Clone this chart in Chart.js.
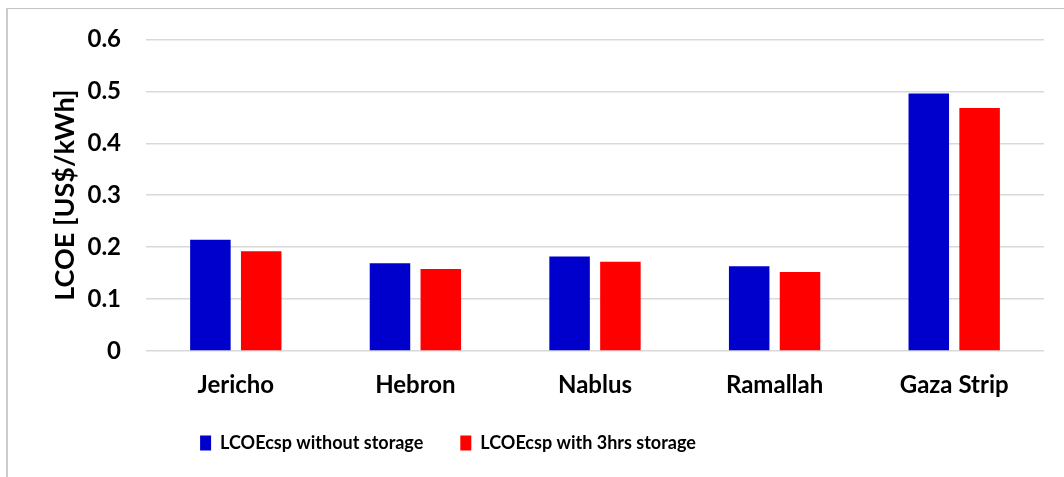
<!DOCTYPE html>
<html>
<head>
<meta charset="utf-8">
<script src="https://cdn.jsdelivr.net/npm/chart.js@4"></script>
<style>
  html, body { margin: 0; padding: 0; background: #ffffff; }
  #wrap { position: relative; width: 1064px; height: 477px; overflow: hidden; }
  #frame { position: absolute; left: 6px; top: 8px; right: -10px; bottom: -10px;
           border-left: 2px solid #cccccc; border-top: 1px solid #c4c4c4; }
  canvas { position: absolute; left: 0; top: 0; }
</style>
</head>
<body>
<div id="wrap">
  <div id="frame"></div>
  <canvas id="c" width="1064" height="477"></canvas>
</div>
<script>
const categories = ["Jericho", "Hebron", "Nablus", "Ramallah", "Gaza Strip"];
const seriesNames = ["LCOEcsp without storage", "LCOEcsp with 3hrs storage"];
const withoutStorage = [0.214, 0.169, 0.182, 0.163, 0.496];
const withStorage = [0.192, 0.158, 0.172, 0.152, 0.468];
const yTicks = [0, 0.1, 0.2, 0.3, 0.4, 0.5, 0.6];
const yTitle = "LCOE [US$/kWh]";

const FONT = "Lato, 'Open Sans', sans-serif";
const PLOT_LEFT = 146;
const PAD_LEFT = 49;
const PLOT_BOTTOM = 351;
const LEGEND_CENTER_X = 448;
const LEGEND_CENTER_Y = 443;
const LEGEND_PAD = 37;
const LEGEND_ITEM_H = 18;

const legendMover = {
  id: 'legendMover',
  afterLayout(chart) {
    const L = chart.legend;
    if (!L) return;
    const w = L.right - L.left, h = L.bottom - L.top;
    L.left = LEGEND_CENTER_X - w / 2; L.right = L.left + w;
    L.top = LEGEND_CENTER_Y - LEGEND_ITEM_H / 2 - LEGEND_PAD; L.bottom = L.top + h;
    if (L.adjustHitBoxes) L.adjustHitBoxes();
  }
};

new Chart(document.getElementById('c'), {
  type: 'bar',
  data: {
    labels: categories,
    datasets: [
      { label: seriesNames[0], data: withoutStorage, backgroundColor: '#0000CC' },
      { label: seriesNames[1], data: withStorage, backgroundColor: '#FF0000' }
    ]
  },
  plugins: [legendMover],
  options: {
    responsive: false,
    animation: false,
    devicePixelRatio: 1,
    categoryPercentage: 0.566,
    barPercentage: 0.797,
    layout: { padding: { left: PAD_LEFT, right: 20, top: 38, bottom: 0 } },
    plugins: {
      tooltip: { enabled: false },
      legend: {
        position: 'bottom',
        labels: {
          color: '#000000',
          font: { family: FONT, size: 18, weight: 'bold' },
          boxWidth: 11, boxHeight: 15,
          padding: LEGEND_PAD
        }
      }
    },
    scales: {
      x: {
        grid: { display: false },
        border: { display: false },
        ticks: { color: '#000000', font: { family: FONT, size: 24, weight: 'bold' }, padding: 12 },
        afterFit(scale) {
          scale.height = 477 - PLOT_BOTTOM - scale.chart.legend.height;
        }
      },
      y: {
        min: 0, max: 0.6,
        afterBuildTicks(scale) { scale.ticks = yTicks.map(v => ({ value: v })); },
        grid: { color: '#d9d9d9', lineWidth: 1.5, drawTicks: false },
        border: { display: false },
        ticks: {
          color: '#000000', padding: 25,
          font: { family: FONT, size: 24, weight: 'bold' },
          callback: v => (v === 0 ? '0' : v.toFixed(1))
        },
        title: {
          display: true, text: yTitle, color: '#000000',
          font: { family: FONT, size: 27, weight: 'bold' },
          padding: 0
        },
        afterFit(scale) { scale.width = PLOT_LEFT - PAD_LEFT; }
      }
    }
  }
});
</script>
</body>
</html>
